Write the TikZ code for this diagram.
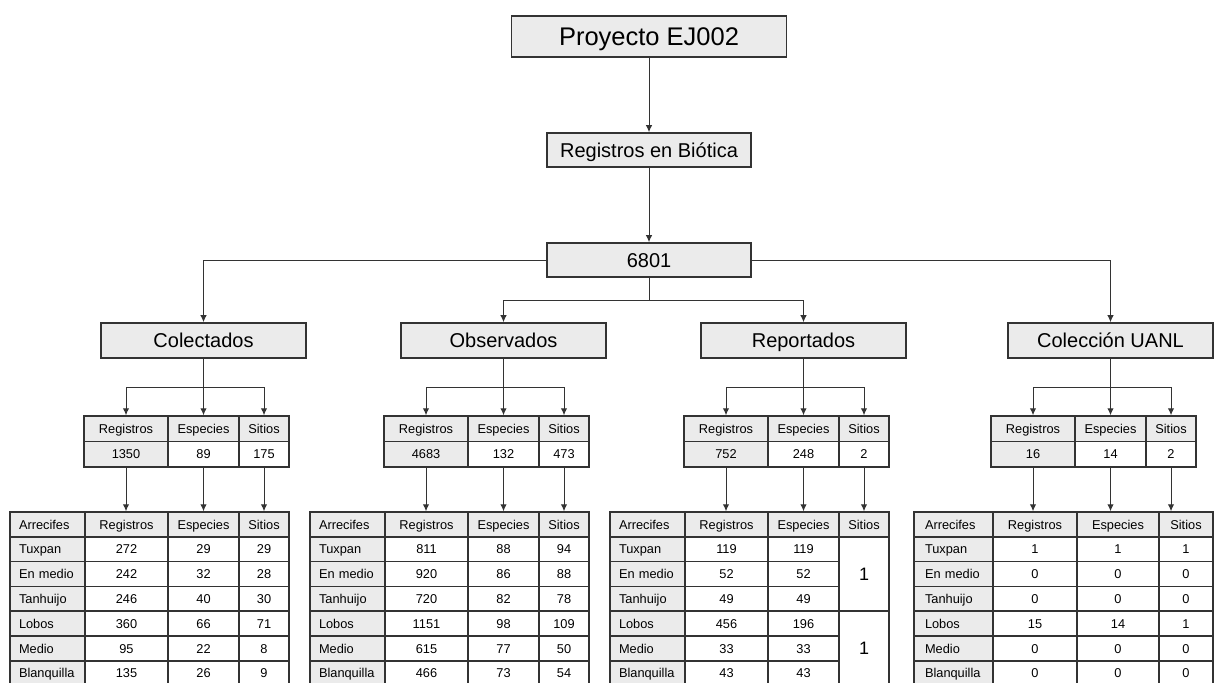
\documentclass[tikz,border=0pt]{standalone}
\usepackage{fontspec}
\setmainfont{Liberation Sans}
\usetikzlibrary{arrows.meta}

\definecolor{cajagris}{HTML}{EBEBEB}
\definecolor{borde}{HTML}{333333}

\tikzset{
  caja/.style={draw=borde, fill=cajagris, line width=0.8pt, inner sep=0pt, text depth=0pt},
  celda/.style={draw=borde, line width=0.75pt, inner sep=0pt, font=\fontsize{6.4}{7.5}\selectfont,
    text height=4.6pt, text depth=0pt},
  nombre/.style={text width=28.5pt, align=left},
  linea/.style={draw=borde, line width=0.5pt},
  flecha/.style={linea, -{Latex[length=3.5pt,width=3.2pt]}},
  titulo/.style={font=\fontsize{10}{12}\selectfont, text height=7.2pt},
}

% one cell: name, x0, x1, y0, y1 (pixels), options, text
\newcommand{\celda}[7]{%
  \node[celda, minimum width={((#3)-(#2))*0.5pt}, minimum height={((#5)-(#4))*0.5pt}, #6]
    (#1) at ({((#2)+(#3))/2},{((#4)+(#5))/2}) {#7};}

% box of a group with its small summary table
\newcommand{\seccion}[6]{%
  \node[caja, titulo, minimum width=102.5pt, minimum height=17.5pt] (#1) at ({203.5+#2},340.5) {#3};
  \celda{#1-c1}{84+#2}{168+#2}{416}{441.5}{fill=cajagris}{Registros}
  \celda{#1-c2}{168+#2}{239+#2}{416}{441.5}{fill=cajagris}{Especies}
  \celda{#1-c3}{239+#2}{289+#2}{416}{441.5}{fill=cajagris}{Sitios}
  \celda{#1-v1}{84+#2}{168+#2}{441.5}{467}{fill=cajagris}{#4}
  \celda{#1-v2}{168+#2}{239+#2}{441.5}{467}{fill=white}{#5}
  \celda{#1-v3}{239+#2}{289+#2}{441.5}{467}{fill=white}{#6}
  \draw[linea] (#1.south) -- ++(0,29) coordinate (#1-b);
  \draw[flecha] (#1-b) -| (#1-c1.north);
  \draw[flecha] (#1-b) -- (#1-c2.north);
  \draw[flecha] (#1-b) -| (#1-c3.north);
}

% table by reef: name, column borders x0..x4, data Registros/Especies/Sitios
\newcommand{\tabla}[7]{%
  \celda{#1-h0}{#2}{#3}{512}{536.8}{fill=cajagris, nombre}{Arrecifes}
  \celda{#1-h1}{#3}{#4}{512}{536.8}{fill=cajagris}{Registros}
  \celda{#1-h2}{#4}{#5}{512}{536.8}{fill=cajagris}{Especies}
  \celda{#1-h3}{#5}{#6}{512}{536.8}{fill=cajagris}{Sitios}
  \foreach \nom [count=\i] in {Tuxpan, En medio, Tanhuijo, Lobos, Medio, Blanquilla} {
    \celda{#1-n\i}{#2}{#3}{512+\i*24.8}{536.8+\i*24.8}{fill=cajagris, nombre}{\nom}
  }
  \foreach \r/\e/\s [count=\i] in {#7} {
    \celda{#1-r\i}{#3}{#4}{512+\i*24.8}{536.8+\i*24.8}{fill=white}{\r}
    \celda{#1-e\i}{#4}{#5}{512+\i*24.8}{536.8+\i*24.8}{fill=white}{\e}
    \ifnum\s>-1 \celda{#1-s\i}{#5}{#6}{512+\i*24.8}{536.8+\i*24.8}{fill=white}{\s}\fi
  }
  \foreach \k in {1,2,3} {
    \draw[flecha] (#1-v\k.south) -- (#1-v\k.south |- #1-h1.north);
  }
}

\begin{document}
\begin{tikzpicture}[x=0.5pt, y=-0.5pt]
  \useasboundingbox (0,0) rectangle (1214,682);
  \fill[white] (0,0) rectangle (1214,682);
  \clip (0,0) rectangle (1214,682);

  % Top of the tree
  \node[caja, font=\fontsize{12.75}{15}\selectfont, text height=9.1pt, minimum width=137.5pt, minimum height=20.5pt] (proyecto) at (649,36.5) {Proyecto EJ002};
  \node[caja, titulo, minimum width=102pt, minimum height=17pt] (biotica) at (649,150) {Registros en Biótica};
  \node[caja, titulo, minimum width=102pt, minimum height=17pt] (total) at (649,260) {6801};
  \draw[flecha] (proyecto) -- (biotica);
  \draw[flecha] (biotica) -- (total);

  % Groups of records
  \seccion{col}{0}{Colectados}{1350}{89}{175}
  \seccion{obs}{300}{Observados}{4683}{132}{473}
  \seccion{rep}{600}{Reportados}{752}{248}{2}
  \seccion{uanl}{907}{Colección UANL}{16}{14}{2}

  \draw[flecha] (total.west) -| (col.north);
  \draw[flecha] (total.east) -| (uanl.north);
  \draw[linea] (total.south) -- ++(0,23) coordinate (rama);
  \draw[flecha] (rama) -| (obs.north);
  \draw[flecha] (rama) -| (rep.north);

  % Tables by reef
  \tabla{col}{10}{85}{168}{239}{289}{272/29/29, 242/32/28, 246/40/30, 360/66/71, 95/22/8, 135/26/9}
  \tabla{obs}{310}{385}{468}{539}{589}{811/88/94, 920/86/88, 720/82/78, 1151/98/109, 615/77/50, 466/73/54}
  \tabla{rep}{610}{685}{768}{839}{889}{119/119/-1, 52/52/-1, 49/49/-1, 456/196/-1, 33/33/-1, 43/43/-1}
  \tabla{uanl}{914}{993}{1077}{1159}{1213}{1/1/1, 0/0/0, 0/0/0, 15/14/1, 0/0/0, 0/0/0}

  % merged Sitios cells
  \celda{rep-s1}{839}{889}{536.8}{611.2}{fill=white, font=\fontsize{9}{10}\selectfont, text height=6.5pt}{1}
  \celda{rep-s2}{839}{889}{611.2}{685.6}{fill=white, font=\fontsize{9}{10}\selectfont, text height=6.5pt}{1}
\end{tikzpicture}
\end{document}
